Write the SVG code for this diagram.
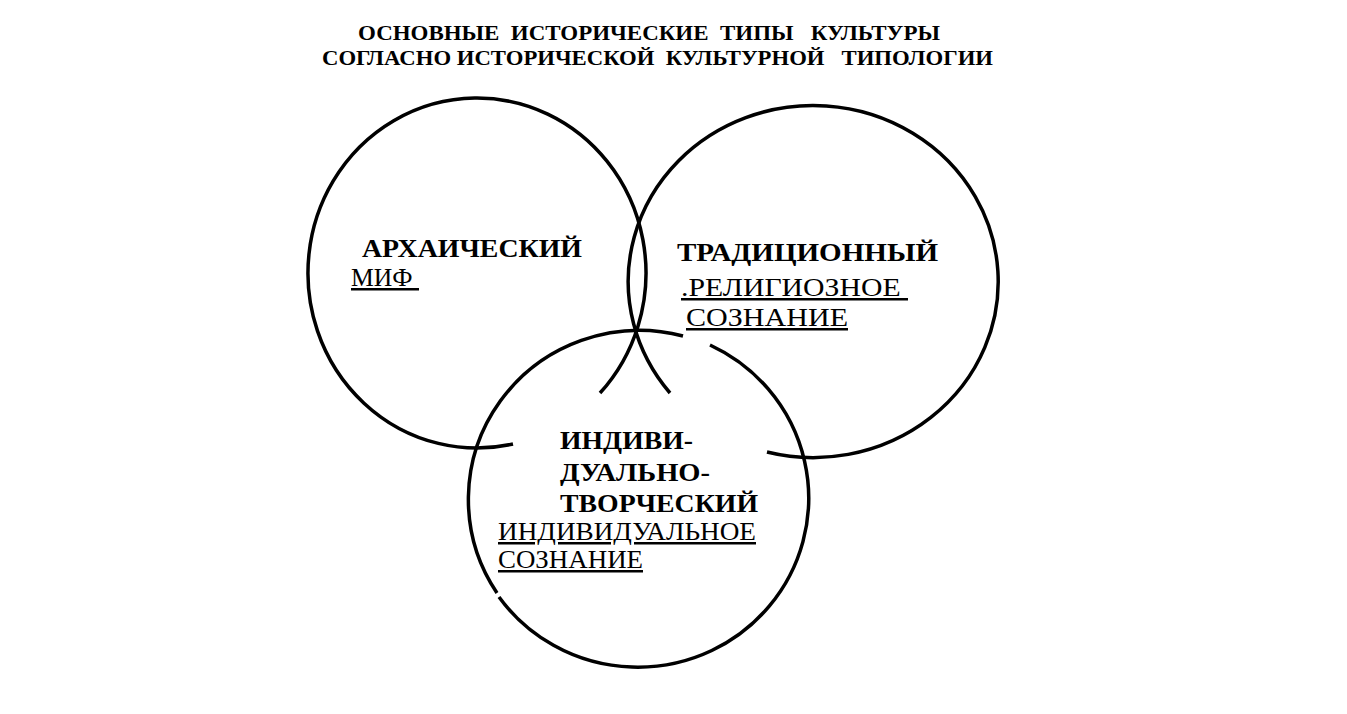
<svg xmlns="http://www.w3.org/2000/svg" width="1347" height="714" viewBox="0 0 1347 714">
<style>
.c{fill:none;stroke:#000;stroke-width:3.5}
text{font-family:"Liberation Serif","Times New Roman",serif;fill:#000;white-space:pre}
.t{font-size:21px;font-weight:bold}
.h{font-size:26px;font-weight:bold}
.s{font-size:25px;text-decoration:underline}
</style>
<rect width="1347" height="714" fill="#fff"/>
<g id="title">
<text class="t" x="358" y="40" textLength="582" lengthAdjust="spacingAndGlyphs">ОСНОВНЫЕ  ИСТОРИЧЕСКИЕ  ТИПЫ   КУЛЬТУРЫ</text>
<text class="t" x="322" y="65" textLength="671" lengthAdjust="spacingAndGlyphs">СОГЛАСНО ИСТОРИЧЕСКОЙ  КУЛЬТУРНОЙ   ТИПОЛОГИИ</text>
</g>
<g id="connectors">
<path class="c" d="M513,444 A169,175 0 1 1 600,393"/>
<path class="c" d="M767,452 A185,176 0 1 0 670,393"/>
<path class="c" d="M710,345 A171,169 0 1 1 499,597 M497,593 A171,169 0 0 1 683,336"/>
</g>
<g id="node-archaic">
<text class="h" x="362" y="257" textLength="220" lengthAdjust="spacingAndGlyphs">АРХАИЧЕСКИЙ</text>
<text class="s" x="351" y="286" textLength="68" lengthAdjust="spacingAndGlyphs">МИФ </text>
</g>
<g id="node-traditional">
<text class="h" x="677" y="261" textLength="261" lengthAdjust="spacingAndGlyphs">ТРАДИЦИОННЫЙ</text>
<text class="s" x="681" y="296" textLength="227" lengthAdjust="spacingAndGlyphs">.РЕЛИГИОЗНОЕ </text>
<text class="s" x="686" y="326" textLength="162" lengthAdjust="spacingAndGlyphs">СОЗНАНИЕ</text>
</g>
<g id="node-individual">
<text class="h" x="560" y="449" textLength="133" lengthAdjust="spacingAndGlyphs">ИНДИВИ-</text>
<text class="h" x="560" y="481" textLength="150" lengthAdjust="spacingAndGlyphs">ДУАЛЬНО-</text>
<text class="h" x="560" y="512" textLength="198" lengthAdjust="spacingAndGlyphs">ТВОРЧЕСКИЙ</text>
<text class="s" x="498" y="540" textLength="258" lengthAdjust="spacingAndGlyphs">ИНДИВИДУАЛЬНОЕ</text>
<text class="s" x="498" y="568" textLength="145" lengthAdjust="spacingAndGlyphs">СОЗНАНИЕ</text>
</g>
</svg>
